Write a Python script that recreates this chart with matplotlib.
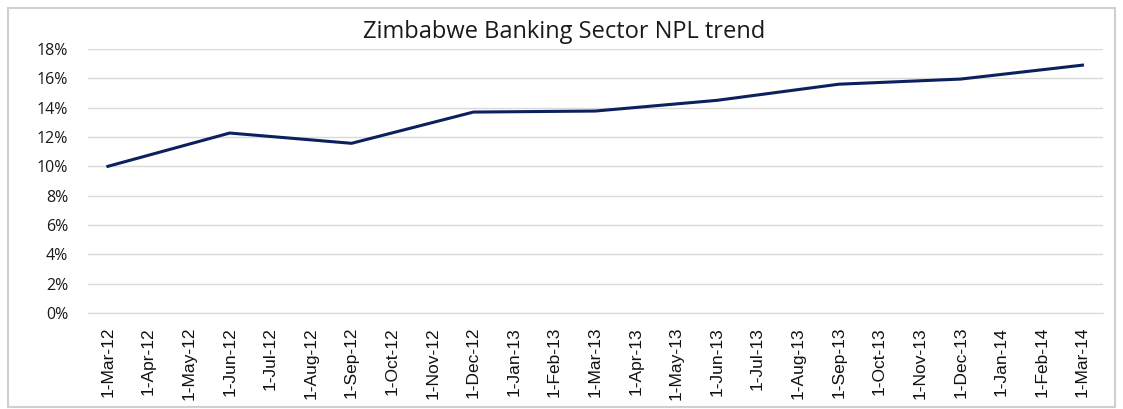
import matplotlib
matplotlib.use("Agg")
import matplotlib.pyplot as plt
from matplotlib.patches import Rectangle
from matplotlib.ticker import FuncFormatter

# monthly category axis, NPL ratio reported quarterly
months = ["1-Mar-12", "1-Apr-12", "1-May-12", "1-Jun-12", "1-Jul-12", "1-Aug-12",
          "1-Sep-12", "1-Oct-12", "1-Nov-12", "1-Dec-12", "1-Jan-13", "1-Feb-13",
          "1-Mar-13", "1-Apr-13", "1-May-13", "1-Jun-13", "1-Jul-13", "1-Aug-13",
          "1-Sep-13", "1-Oct-13", "1-Nov-13", "1-Dec-13", "1-Jan-14", "1-Feb-14",
          "1-Mar-14"]
report_dates = ["1-Mar-12", "1-Jun-12", "1-Sep-12", "1-Dec-12", "1-Mar-13",
                "1-Jun-13", "1-Sep-13", "1-Dec-13", "1-Mar-14"]
npl = [0.100, 0.1227, 0.1157, 0.1370, 0.1377, 0.1450, 0.1560, 0.1595, 0.1690]

plt.rcParams['font.family'] = ['Liberation Sans Narrow', 'Liberation Sans', 'DejaVu Sans']

fig = plt.figure(figsize=(11.23, 4.09), dpi=100)
fig.patches.append(Rectangle((0.007, 0.005), 0.986, 0.975, transform=fig.transFigure,
                             fill=False, edgecolor="#d0d0d0", linewidth=1.5))

ax = fig.add_axes([0.078, 0.2347, 0.904, 0.6455])
x = [months.index(d) for d in report_dates]
ax.plot(x, npl, color="#0c205e", linewidth=2.2, solid_joinstyle="round")

ax.set_xlim(-0.5, len(months) - 0.5)
ax.set_ylim(0, 0.18)
ax.set_yticks([i * 0.02 for i in range(10)])
ax.yaxis.set_major_formatter(FuncFormatter(lambda v, _: f"{v * 100:.0f}%"))
ax.set_xticks(range(len(months)))
ax.set_xticklabels(months, rotation=90, fontsize=12.5, color="#111111")
for lbl in ax.get_yticklabels():
    lbl.set_fontfamily(['Open Sans', 'DejaVu Sans'])
    lbl.set_fontsize(11.5)
    lbl.set_color("#1a1a1a")

ax.tick_params(axis="both", length=0)
ax.tick_params(axis="x", pad=10)
ax.tick_params(axis="y", pad=14)
ax.grid(axis="y", color="#d9d9d9", linewidth=1)
ax.set_axisbelow(True)
for side in ["top", "right", "left"]:
    ax.spines[side].set_visible(False)
ax.spines["bottom"].set_color("#d9d9d9")

fig.text(0.502, 0.922, "Zimbabwe Banking Sector NPL trend", ha="center", va="center",
         fontsize=17, color="#1a1a1a", family=['Open Sans', 'DejaVu Sans'])

fig.savefig("out.png", dpi=100)
